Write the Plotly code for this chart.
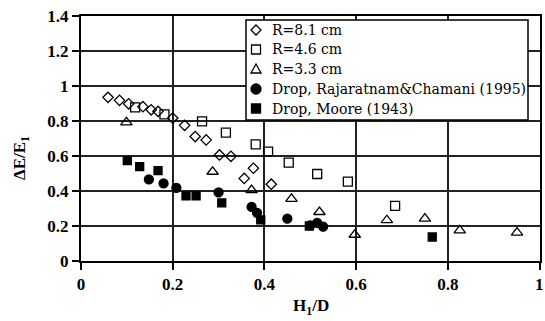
import plotly.graph_objects as go

# ---- data ----
r81_x = [0.059, 0.084, 0.104, 0.135, 0.153, 0.168, 0.200, 0.226, 0.249, 0.273, 0.302, 0.327, 0.356, 0.376, 0.415]
r81_y = [0.935, 0.918, 0.898, 0.882, 0.864, 0.855, 0.817, 0.775, 0.711, 0.692, 0.606, 0.598, 0.472, 0.530, 0.439]

r46_x = [0.118, 0.182, 0.264, 0.316, 0.381, 0.408, 0.453, 0.515, 0.582, 0.685]
r46_y = [0.878, 0.838, 0.798, 0.734, 0.666, 0.625, 0.562, 0.497, 0.453, 0.315]

r33_x = [0.099, 0.287, 0.372, 0.459, 0.520, 0.597, 0.667, 0.750, 0.826, 0.951]
r33_y = [0.792, 0.510, 0.405, 0.355, 0.280, 0.150, 0.233, 0.242, 0.175, 0.162]

raj_x = [0.148, 0.180, 0.208, 0.300, 0.372, 0.384, 0.450, 0.500, 0.515, 0.528]
raj_y = [0.466, 0.443, 0.418, 0.392, 0.309, 0.275, 0.242, 0.204, 0.218, 0.196]

moore_x = [0.101, 0.128, 0.168, 0.229, 0.251, 0.307, 0.392, 0.498, 0.766]
moore_y = [0.573, 0.539, 0.516, 0.372, 0.372, 0.332, 0.235, 0.200, 0.137]

series_names = ["R=8.1 cm", "R=4.6 cm", "R=3.3 cm",
                "Drop, Rajaratnam&Chamani (1995)", "Drop, Moore (1943)"]
x_ticks = [0, 0.2, 0.4, 0.6, 0.8, 1]
y_ticks = [0, 0.2, 0.4, 0.6, 0.8, 1, 1.2, 1.4]
x_title = "H<sub>1</sub>/D"
y_title = "ΔE/E<sub>1</sub>"

# ---- styling ----
LEG_FONT = "DejaVu Serif"
AX_FONT = "Liberation Serif"
W, H = 545, 321
# plot area in window pixels: x 81..540, y 16..261
L, R, T, B = 81, 545 - 540, 16, 321 - 261
PW, PH = W - L - R, H - T - B

symbols = ["diamond-open", "square-open", "triangle-up-open", "circle", "square"]
sizes = [8, 9, 10, 9, 8]

fig = go.Figure()
data = [(r81_x, r81_y), (r46_x, r46_y), (r33_x, r33_y), (raj_x, raj_y), (moore_x, moore_y)]
for (xs, ys), name, sym, sz in zip(data, series_names, symbols, sizes):
    fig.add_trace(go.Scatter(
        x=xs, y=ys, mode="markers", name=name, showlegend=False,
        marker=dict(symbol=sym, size=sz, color="black",
                    line=dict(color="black", width=1.3)),
    ))


def px2x(p):
    return (p - L) / PW


def px2y(p):
    return (T + PH - p) / PH


# ---- hand-built legend: white box, marker glyphs as pixel shapes, text ----
box_l, box_r, box_t, box_b = 246, 528, 20, 120
row_y = [30, 49.5, 69, 89, 108.5]
mk_x, txt_x = 256, 270

fig.add_shape(type="rect", xref="paper", yref="paper",
              x0=px2x(box_l), x1=px2x(box_r), y0=px2y(box_b), y1=px2y(box_t),
              line=dict(color="black", width=1.5), fillcolor="white", layer="above")

glyphs = [
    dict(type="path", path="M0,5 L5,0 L0,-5 L-5,0 Z", fillcolor="white"),
    dict(type="rect", x0=-4.5, x1=4.5, y0=-4.5, y1=4.5, fillcolor="white"),
    dict(type="path", path="M-5,-4 L5,-4 L0,5 Z", fillcolor="white"),
    dict(type="circle", x0=-5, x1=5, y0=-5, y1=5, fillcolor="black"),
    dict(type="rect", x0=-4.5, x1=4.5, y0=-4.5, y1=4.5, fillcolor="black"),
]
for name, g, ry in zip(series_names, glyphs, row_y):
    fig.add_shape(xref="paper", yref="paper", xsizemode="pixel", ysizemode="pixel",
                  xanchor=px2x(mk_x), yanchor=px2y(ry), layer="above",
                  line=dict(color="black", width=1.3), **g)
    fig.add_annotation(xref="paper", yref="paper", x=px2x(txt_x), y=px2y(ry),
                       text=name, showarrow=False, xanchor="left", yanchor="middle",
                       font=dict(family=LEG_FONT, size=14, color="black"))

# ---- axis titles ----
fig.add_annotation(xref="paper", yref="paper", x=px2x(311), y=px2y(307),
                   text=x_title, showarrow=False, xanchor="center", yanchor="middle",
                   font=dict(family=AX_FONT, size=17, color="black", weight="bold"))
fig.add_annotation(xref="paper", yref="paper", x=px2x(21), y=px2y(158),
                   text=y_title, showarrow=False, textangle=-90,
                   xanchor="center", yanchor="middle",
                   font=dict(family=AX_FONT, size=17, color="black", weight="bold"))

# last x tick label, which plotly drops at the right edge of the page
fig.add_annotation(xref="x", yref="paper", x=x_ticks[-1], y=px2y(284),
                   text=f"{x_ticks[-1]:g}", showarrow=False, xanchor="center", yanchor="middle",
                   font=dict(family=AX_FONT, size=17, color="black", weight="bold"))

grid = dict(showgrid=True, gridcolor="#222222", gridwidth=1.5, zeroline=False,
            showline=True, linecolor="black", linewidth=2, mirror=True,
            ticks="outside", ticklen=7, tickwidth=1.5, tickcolor="black",
            tickfont=dict(family=AX_FONT, size=17, color="black", weight="bold"),
            ticklabeloverflow="allow", automargin=False)

fig.update_layout(
    width=W, height=H,
    margin=dict(l=L, r=R, t=T, b=B),
    paper_bgcolor="white", plot_bgcolor="white",
    showlegend=False,
    xaxis=dict(range=[0, 1.001], tickvals=x_ticks,
               ticktext=[f"{v:g}" if v < x_ticks[-1] else "" for v in x_ticks], **grid),
    yaxis=dict(range=[0, 1.4], tickvals=y_ticks, ticktext=[f"{v:g}" for v in y_ticks], **grid),
)

fig.write_html("out.html", config={"displayModeBar": False},
               post_script="document.body.style.margin='0';document.body.style.overflow='hidden';")
